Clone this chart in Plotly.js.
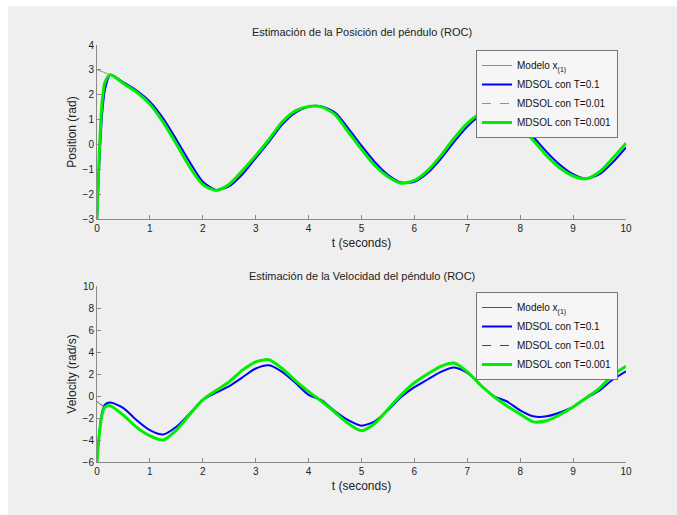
<!DOCTYPE html>
<html><head><meta charset="utf-8">
<script src="https://cdn.plot.ly/plotly-3.0.1.min.js"></script>
<style>html,body{margin:0;padding:0;background:#fff;}#c{width:677px;height:515px;}</style>
</head><body><div id="c"></div>
<script>
const t = [0,0.05,0.1,0.15,0.25,0.5,0.75,1,1.25,1.5,1.75,2,2.25,2.5,2.75,3,3.25,3.5,3.75,4,4.25,4.5,4.75,5,5.25,5.5,5.75,6,6.25,6.5,6.75,7,7.25,7.5,7.75,8,8.25,8.5,8.75,9,9.25,9.5,9.75,10];

// Position (rad)
const posModelo = [3.0,2.97,2.93,2.88,2.8,2.45,2.1,1.62,0.9,0.02,-0.9,-1.62,-1.85,-1.6,-1.05,-0.45,0.2,0.9,1.35,1.53,1.5,1.2,0.5,-0.2,-0.85,-1.3,-1.56,-1.45,-1.05,-0.45,0.25,0.85,1.25,1.45,1.25,0.7,0.15,-0.45,-0.95,-1.27,-1.38,-1.1,-0.55,0.05];
const posT01 = [-3,-0.5,1.3,2.2,2.8,2.5,2.17,1.72,1.05,0.2,-0.7,-1.5,-1.83,-1.68,-1.2,-0.55,0.1,0.8,1.28,1.52,1.53,1.28,0.65,-0.05,-0.7,-1.22,-1.53,-1.5,-1.15,-0.58,0.1,0.72,1.18,1.42,1.32,0.85,0.3,-0.3,-0.82,-1.2,-1.38,-1.2,-0.72,-0.12];
const posT001 = [-3,-0.1,1.75,2.45,2.8,2.46,2.11,1.63,0.92,0.04,-0.88,-1.61,-1.85,-1.61,-1.07,-0.46,0.19,0.89,1.34,1.53,1.5,1.21,0.52,-0.18,-0.84,-1.29,-1.56,-1.46,-1.06,-0.46,0.24,0.84,1.25,1.45,1.26,0.71,0.16,-0.44,-0.94,-1.27,-1.38,-1.11,-0.56,0.04];
const posT0001 = [-3,0.0,1.8,2.5,2.8,2.45,2.1,1.62,0.9,0.02,-0.9,-1.62,-1.85,-1.6,-1.05,-0.45,0.2,0.9,1.35,1.53,1.5,1.2,0.5,-0.2,-0.85,-1.3,-1.56,-1.45,-1.05,-0.45,0.25,0.85,1.25,1.45,1.25,0.7,0.15,-0.45,-0.95,-1.27,-1.38,-1.1,-0.55,0.05];

// Velocity (rad/s)
const velModelo = [-0.5,-0.7,-0.85,-0.9,-0.9,-1.75,-2.85,-3.62,-4.0,-3.1,-1.7,-0.35,0.5,1.3,2.35,3.1,3.3,2.5,1.4,0.4,-0.5,-1.5,-2.5,-3.15,-2.5,-1.2,0.1,1.2,2.0,2.7,3.0,2.2,1.0,-0.05,-0.9,-1.65,-2.35,-2.25,-1.7,-1.0,-0.15,0.7,1.9,2.7];
const velT01 = [-6,-3,-1.4,-0.8,-0.6,-1.1,-2.2,-3.1,-3.5,-2.8,-1.6,-0.35,0.3,0.9,1.7,2.5,2.8,2.2,1.2,0.1,-0.4,-1.4,-2.2,-2.7,-2.3,-1.3,-0.1,0.8,1.5,2.2,2.6,2.1,1.0,0.0,-0.5,-1.3,-1.85,-1.85,-1.5,-1.0,-0.2,0.5,1.5,2.25];
const velT001 = [-6,-3.1,-1.5,-0.95,-0.85,-1.7,-2.8,-3.55,-3.95,-3.05,-1.68,-0.33,0.48,1.27,2.3,3.05,3.25,2.47,1.38,0.38,-0.5,-1.48,-2.46,-3.1,-2.47,-1.2,0.08,1.18,1.97,2.66,2.95,2.18,0.98,-0.05,-0.88,-1.62,-2.3,-2.2,-1.67,-0.98,-0.15,0.68,1.86,2.65];
const velT0001 = [-6,-3.2,-1.6,-1.0,-0.9,-1.75,-2.85,-3.62,-4.0,-3.1,-1.7,-0.35,0.5,1.3,2.35,3.1,3.3,2.5,1.4,0.4,-0.5,-1.5,-2.5,-3.15,-2.5,-1.2,0.1,1.2,2.0,2.7,3.0,2.2,1.0,-0.05,-0.9,-1.65,-2.35,-2.25,-1.7,-1.0,-0.15,0.7,1.9,2.7];

const xTicks = [0,1,2,3,4,5,6,7,8,9,10];
const posTicks = [-3,-2,-1,0,1,2,3,4];
const velTicks = [-6,-4,-2,0,2,4,6,8,10];

const names = ['Modelo x<sub>(1)</sub>','MDSOL con T=0.1','MDSOL con T=0.01','MDSOL con T=0.001'];
const styles = [
  {color:'#8c8c8c', width:1, dash:'solid'},
  {color:'#0000ff', width:2, dash:'solid'},
  {color:'#ff6060', width:1, dash:'dash'},
  {color:'#00ee00', width:3, dash:'solid'}
];
const styles2 = [
  {color:'#555555', width:1, dash:'solid'},
  {color:'#0000ff', width:2, dash:'solid'},
  {color:'#444444', width:1, dash:'dash'},
  {color:'#00ee00', width:3, dash:'solid'}
];
const posSeries = [posModelo,posT01,posT001,posT0001];
const velSeries = [velModelo,velT01,velT001,velT0001];

const data = [];
posSeries.forEach((y,i)=>data.push({x:t,y:y,type:'scatter',mode:'lines',name:names[i],
  line:Object.assign({shape:'spline',smoothing:0.7},styles[i]),xaxis:'x',yaxis:'y',legend:'legend'}));
velSeries.forEach((y,i)=>data.push({x:t,y:y,type:'scatter',mode:'lines',name:names[i],
  line:Object.assign({shape:'spline',smoothing:0.7},styles2[i]),xaxis:'x2',yaxis:'y2',legend:'legend2'}));

const font = {family:'Liberation Sans, Arial, sans-serif', color:'#222', size:10};
function ax(extra){
  return Object.assign({showline:true, linecolor:'#8a8a8a', linewidth:1, ticks:'inside', ticklen:4,
    tickcolor:'#8a8a8a', showgrid:false, zeroline:false, mirror:false,
    tickfont:{family:font.family, size:10, color:'#222'}}, extra);
}
const W=677,H=515;
const titleFont = {size:12, family:font.family, color:'#222'};
const layout = {
  width:W, height:H, margin:{l:0,r:0,t:0,b:0},
  paper_bgcolor:'#ffffff', plot_bgcolor:'rgba(0,0,0,0)', font:font, showlegend:true,
  shapes:[{type:'rect', xref:'paper', yref:'paper', x0:8/W, x1:1, y0:0, y1:1-6/H,
    fillcolor:'#efefef', line:{width:0}, layer:'below'}],
  xaxis: ax({domain:[97/W,626/W], range:[0,10], tickvals:xTicks, anchor:'y',
    title:{text:'t (seconds)', font:titleFont, standoff:5}}),
  yaxis: ax({domain:[1-219/H,1-45/H], range:[-3,4], tickvals:posTicks, anchor:'x',
    title:{text:'Position (rad)', font:titleFont, standoff:3}}),
  xaxis2: ax({domain:[97/W,626/W], range:[0,10], tickvals:xTicks, anchor:'y2',
    title:{text:'t (seconds)', font:titleFont, standoff:5}}),
  yaxis2: ax({domain:[1-462/H,1-286/H], range:[-6,10], tickvals:velTicks, anchor:'x2',
    title:{text:'Velocity (rad/s)', font:titleFont, standoff:3}}),
  legend:{x:476/W, y:1-50/H, xanchor:'left', yanchor:'top', bgcolor:'#f6f6f6',
    bordercolor:'#777', borderwidth:1, font:{size:10, family:font.family, color:'#111'}, tracegroupgap:0},
  legend2:{x:476/W, y:1-292/H, xanchor:'left', yanchor:'top', bgcolor:'#f6f6f6',
    bordercolor:'#777', borderwidth:1, font:{size:10, family:font.family, color:'#111'}, tracegroupgap:0},
  annotations:[
    {text:'Estimación de la Posición del péndulo (ROC)', xref:'paper', yref:'paper', x:362/W, y:1-32/H,
     yanchor:'middle', xanchor:'center', showarrow:false, font:{size:11, family:font.family, color:'#222'}},
    {text:'Estimación de la Velocidad del péndulo (ROC)', xref:'paper', yref:'paper', x:362/W, y:1-276/H,
     yanchor:'middle', xanchor:'center', showarrow:false, font:{size:11, family:font.family, color:'#222'}}
  ]
};
Plotly.newPlot('c', data, layout, {displayModeBar:false, staticPlot:true});
</script></body></html>
